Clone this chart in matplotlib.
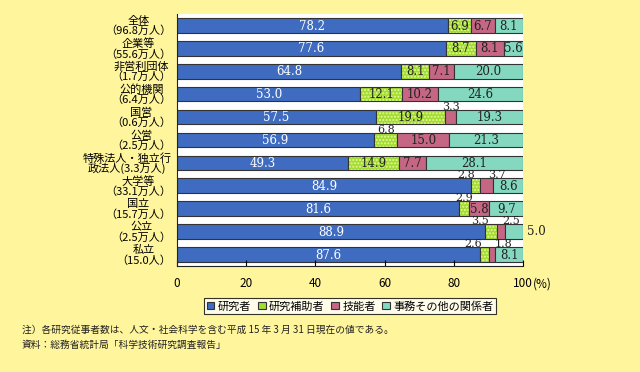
import numpy as np
import matplotlib
matplotlib.use('Agg')
import matplotlib.pyplot as plt

plt.rcParams['font.family'] = ['Noto Sans CJK JP', 'DejaVu Sans']

# data
categories = ['全体\n（96.8万人）', '企業等\n（55.6万人）', '非営利団体\n（1.7万人）',
              '公的機関\n（6.4万人）', '国営\n（0.6万人）', '公営\n（2.5万人）',
              '特殊法人・独立行\n政法人(3.3万人)', '大学等\n（33.1万人）', '国立\n（15.7万人）',
              '公立\n（2.5万人）', '私立\n（15.0人）']
researchers = [78.2, 77.6, 64.8, 53.0, 57.5, 56.9, 49.3, 84.9, 81.6, 88.9, 87.6]
assistants = [6.9, 8.7, 8.1, 12.1, 19.9, 6.8, 14.9, 2.8, 2.9, 3.5, 2.6]
technicians = [6.7, 8.1, 7.1, 10.2, 3.3, 15.0, 7.7, 3.7, 5.8, 2.5, 1.8]
others = [8.1, 5.6, 20.0, 24.6, 19.3, 21.3, 28.1, 8.6, 9.7, 5.0, 8.1]
series_names = ['研究者', '研究補助者', '技能者', '事務その他の関係者']
xticks = [0, 20, 40, 60, 80, 100]

colors = ['#3f6cc0', '#a2dc2e', '#c46684', '#84d8c0']
bg = '#fff59c'

fig = plt.figure(figsize=(6.4, 3.72), dpi=100, facecolor=bg)
ax = fig.add_axes([0.2766, 0.285, 0.5406, 0.6776])
ax.set_facecolor('white')

series = [researchers, assistants, technicians, others]
y = np.arange(len(categories))
h = 0.64
num_font = 'DejaVu Serif'

left = np.zeros(len(categories))
for k, vals in enumerate(series):
    vals = np.array(vals)
    if k == 1:
        # dotted fill for the assistant series
        ax.barh(y, vals, left=left, height=h, color=colors[k], hatch='.....',
                edgecolor='#e4f7a0', linewidth=0)
        ax.barh(y, vals, left=left, height=h, fill=False, edgecolor='#333333', linewidth=0.8)
    else:
        ax.barh(y, vals, left=left, height=h, color=colors[k], edgecolor='#333333', linewidth=0.8)
    left += vals

# value labels: narrow segments get their label above the bar
for i in range(len(categories)):
    start = 0
    above = []
    for k, vals in enumerate(series):
        v = vals[i]
        cx = start + v / 2
        if v >= 6.85 or (k > 1 and v >= 5.5):
            tc = 'white' if k == 0 else '#222222'
            ax.text(cx, y[i] + 0.03, f'{v:.1f}', ha='center', va='center', color=tc,
                    fontsize=8.5, family=num_font)
        elif k == 3:
            ax.text(101.2, y[i], f'{v:.1f}', ha='left', va='center', color='#222222',
                    fontsize=8.5, family=num_font)
        else:
            above.append([cx, v])
        start += v
    if len(above) == 2 and above[1][0] - above[0][0] < 8:
        mid = (above[0][0] + above[1][0]) / 2
        above[0][0] = mid - 4.5
        above[1][0] = mid + 4.5
    for cx, v in above:
        ax.text(cx, y[i] - h / 2 - 0.13, f'{v:.1f}', ha='center', va='center', color='#222222',
                fontsize=8, family=num_font)

ax.set_ylim(len(categories) - 0.5, -0.5)
ax.set_xlim(0, 100)
ax.set_yticks(y)
ax.set_yticklabels(categories, fontsize=8, multialignment='center', linespacing=0.95)
ax.tick_params(axis='y', length=0, pad=4)
ax.set_xticks(xticks)
ax.set_xticklabels([str(t) for t in xticks], fontsize=8.5)
ax.tick_params(axis='x', direction='in', length=4, pad=8)
ax.annotate('(%)', xy=(102.9, 0), xycoords=('data', 'axes fraction'), xytext=(0, -8),
            textcoords='offset points', fontsize=8.5, ha='left', va='top', annotation_clip=False)
ax.spines['top'].set_visible(False)
ax.spines['right'].set_visible(False)
for s in ['left', 'bottom']:
    ax.spines[s].set_color('#222222')

handles = [plt.Rectangle((0, 0), 1, 1, facecolor=c, edgecolor='#333333', linewidth=0.8) for c in colors]
leg = fig.legend(handles, series_names, loc='center', bbox_to_anchor=(0.547, 0.177), ncol=4,
                 fontsize=8, frameon=True, fancybox=False, edgecolor='black',
                 handlelength=0.7, handleheight=0.7, handletextpad=0.3, columnspacing=0.6,
                 borderpad=0.25, borderaxespad=0)
leg.get_frame().set_linewidth(0.8)
leg.get_frame().set_facecolor('white')

fig.text(0.034, 0.073 + 0.04, '注）各研究従事者数は、人文・社会科学を含む平成 15 年 3 月 31 日現在の値である。',
         fontsize=7, color='#222222', va='center')
fig.text(0.034, 0.073, '資料：総務省統計局「科学技術研究調査報告」',
         fontsize=7, color='#222222', va='center')

fig.savefig('out.png', dpi=100, facecolor=bg)
